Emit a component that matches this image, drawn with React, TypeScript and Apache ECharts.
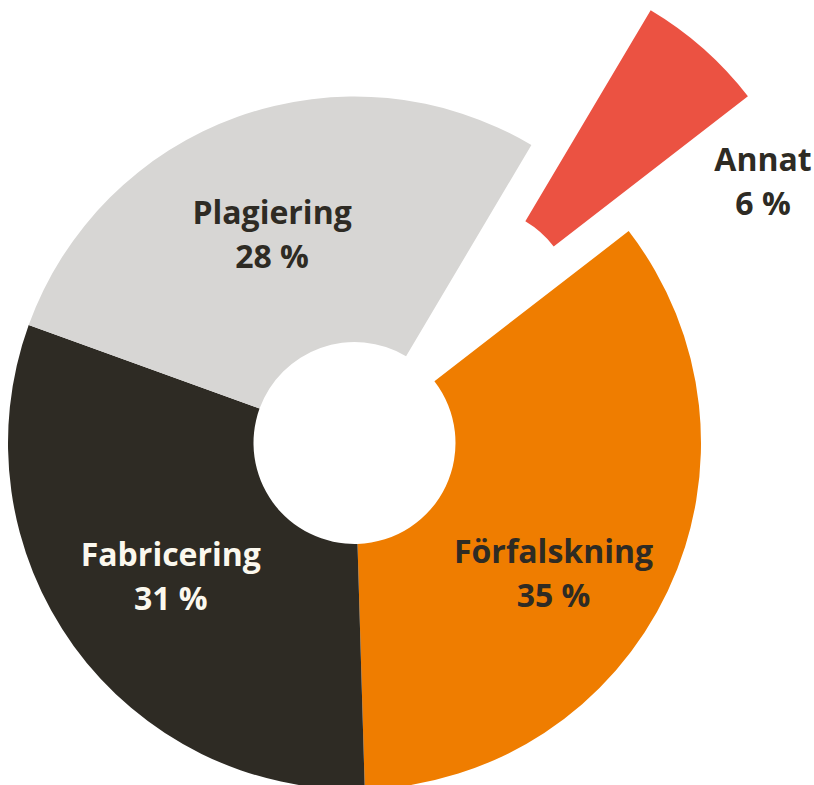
import React, { useEffect, useRef } from "react";
import * as echarts from "echarts";

const categories = ["Förfalskning", "Fabricering", "Plagiering", "Annat"];
const values = [35, 31, 28, 6];
const colors = ["#EF7D00", "#2E2B24", "#D7D6D4", "#EB5242"];
const labelColors = ["#2E2B24", "#FBF8EE", "#2E2B24", "#2E2B24"];
const labelOffsets = [[-6, 33], [0, 0], [-6, 4], [139, 42]];
const explodedIndex = 3;

export default function App() {
  const ref = useRef<HTMLDivElement>(null);
  useEffect(() => {
    if (!ref.current) return;
    const chart = echarts.init(ref.current, null, { renderer: "svg" });
    chart.setOption({
      animation: false,
      backgroundColor: "#ffffff",
      series: [
        {
          type: "pie",
          center: [354.5, 443],
          radius: [101, 346.5],
          startAngle: 37.7,
          clockwise: true,
          selectedMode: "single",
          selectedOffset: 180,
          avoidLabelOverlap: false,
          emphasis: { disabled: true },
          label: {
            show: true,
            position: "inside",
            formatter: "{b}\n{c} %",
            fontFamily: "Open Sans",
            fontWeight: "bold",
            fontSize: 32,
            lineHeight: 44,
            align: "center",
          },
          labelLine: { show: false },
          data: categories.map((name, i) => ({
            name,
            value: values[i],
            selected: i === explodedIndex,
            itemStyle: { color: colors[i] },
            label: { color: labelColors[i], offset: labelOffsets[i] },
            select: { label: { color: labelColors[i], offset: labelOffsets[i] } },
          })),
        },
      ],
    });
    return () => chart.dispose();
  }, []);
  return (
    <div
      ref={ref}
      style={{ position: "absolute", left: 0, top: 0, width: 814, height: 785 }}
    />
  );
}
